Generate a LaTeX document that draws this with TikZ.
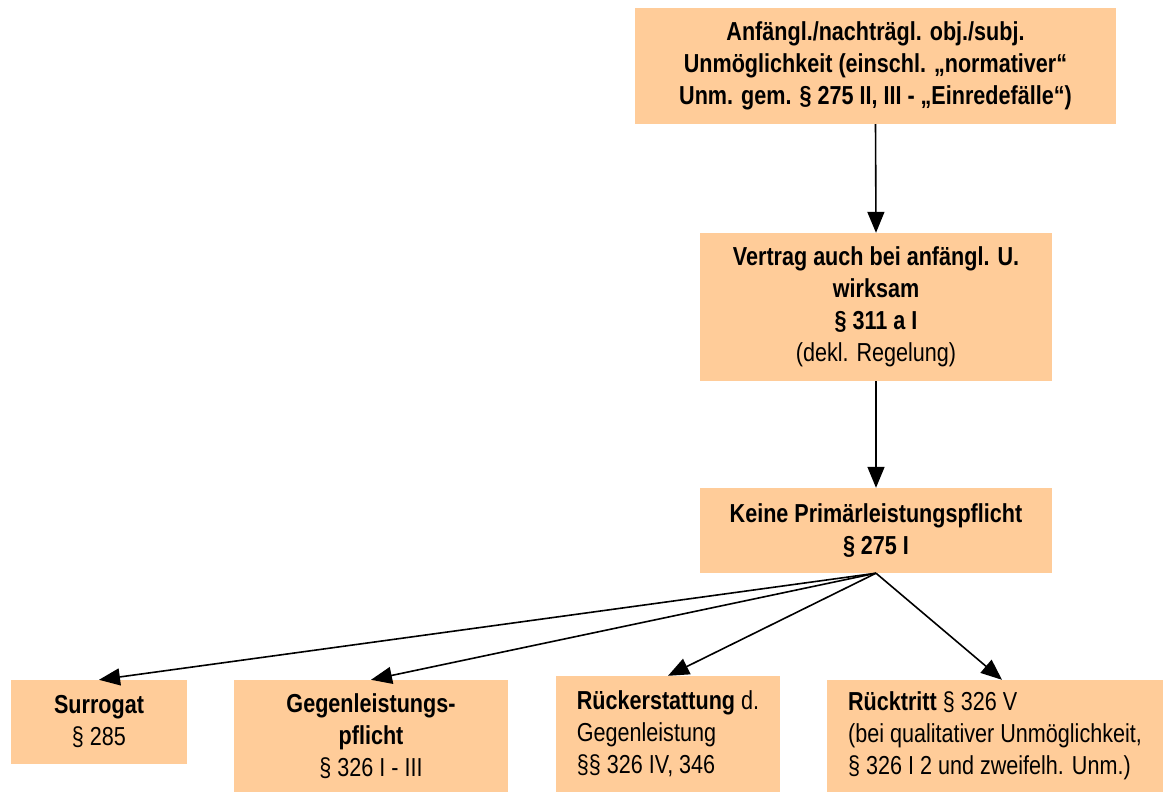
\documentclass[tikz,border=0pt]{standalone}
\usepackage{fontspec}
\setmainfont{Liberation Sans}[FakeStretch=0.83]
\usetikzlibrary{arrows.meta}
\definecolor{peach}{HTML}{FFCC99}
\tikzset{
  box/.style={fill=peach, draw=none, inner sep=0pt, anchor=center,
    font=\fontsize{26}{32}\selectfont},
  conn/.style={-{Triangle[length=21pt,width=17pt]}, line width=1.6pt, black},
}
\begin{document}
\begin{tikzpicture}[x=1pt,y=-1pt]
\useasboundingbox (0,0) rectangle (1164,792);
\node[box, minimum width=481pt, minimum height=116pt, align=center] (top) at (875.5,66)
  {\textbf{Anfängl./nachträgl. obj./subj.}\\\textbf{Unmöglichkeit (einschl. „normativer“}\\\textbf{Unm. gem. § 275 II, III - „Einredefälle“)}};
\node[box, minimum width=352pt, minimum height=148pt, align=center] (vertrag) at (876,307)
  {\textbf{Vertrag auch bei anfängl. U.}\\\textbf{wirksam}\\\textbf{§ 311 a I}\\(dekl. Regelung)};
\node[box, minimum width=352pt, minimum height=85pt, align=center] (keine) at (876,530.5)
  {\textbf{Keine Primärleistungspflicht}\\\textbf{§ 275 I}};
\node[box, minimum width=176pt, minimum height=84pt, align=center] (surr) at (99,722)
  {\textbf{Surrogat}\\§ 285};
\node[box, minimum width=274pt, minimum height=112pt, align=center] (gegen) at (371,736)
  {\textbf{Gegenleistungs-}\\\textbf{pflicht}\\§ 326 I - III};
\node[box, minimum width=224pt, minimum height=116pt, align=left] (rueck) at (668,734)
  {\textbf{Rückerstattung} d.\\Gegenleistung\\§§ 326 IV, 346};
\node[box, minimum width=336pt, minimum height=112pt, align=left] (ruecktritt) at (995,736)
  {\textbf{Rücktritt} § 326 V\\(bei qualitativer Unmöglichkeit,\\§ 326 I 2 und zweifelh. Unm.)};
\draw[conn] (top.south) -- (vertrag.north);
\draw[conn] (vertrag.south) -- (keine.north);
\draw[conn] (keine.south) -- (surr.north);
\draw[conn] (keine.south) -- (gegen.north);
\draw[conn] (keine.south) -- (rueck.north);
\draw[conn] (keine.south) -- ([xshift=7pt]ruecktritt.north);
\end{tikzpicture}
\end{document}
